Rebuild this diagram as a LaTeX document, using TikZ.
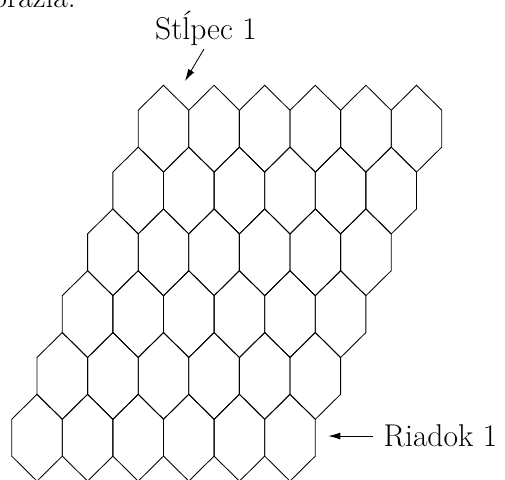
\documentclass[tikz,border=0pt]{standalone}
\usepackage{fontspec}
\usetikzlibrary{arrows.meta}
\begin{document}
\begin{tikzpicture}[x=1pt,y=-1pt,
  hexline/.style={line width=0.85pt, line join=miter},
  labeltext/.style={font=\fontsize{31.5}{37}\selectfont, inner sep=0pt},
  pointer/.style={line width=0.85pt, -{Latex[length=12pt,width=7pt]}}]
\useasboundingbox (0,0) rectangle (505,479);
\clip (0,0) rectangle (505,479);
% honeycomb: 6 rows x 6 columns, each row shifted by half a cell
\foreach \r in {1,...,6}{
  \foreach \c in {0,...,5}{
    \pgfmathsetmacro\L{11.7+(6-\r)*25.3+\c*50.6}
    \pgfmathsetmacro\T{85.3+(\r-1)*61.8}
    \draw[hexline] (\L+25.3,\T) -- (\L+50.6,\T+25) -- (\L+50.6,\T+61.8)
      -- (\L+25.3,\T+86.8) -- (\L,\T+61.8) -- (\L,\T+25) -- cycle;
  }
}
% fragment of the preceding line of text
\node[labeltext, anchor=base east] (frag) at (76,7.3) {zobrazia.};
% labels
\node[labeltext, anchor=base west] (col) at (155,39.3) {Stĺpec 1};
\coordinate (coltip) at (185,81);
\draw[pointer, shorten <=4pt] (col.south) -- (coltip);
\node[labeltext, anchor=base west] (row) at (383.5,446.7) {Riadok 1};
\coordinate (rowtip) at (328.3,436.5);
\draw[pointer, shorten <=10.8pt] (row.west) -- (row.west -| rowtip);
\end{tikzpicture}
\end{document}
